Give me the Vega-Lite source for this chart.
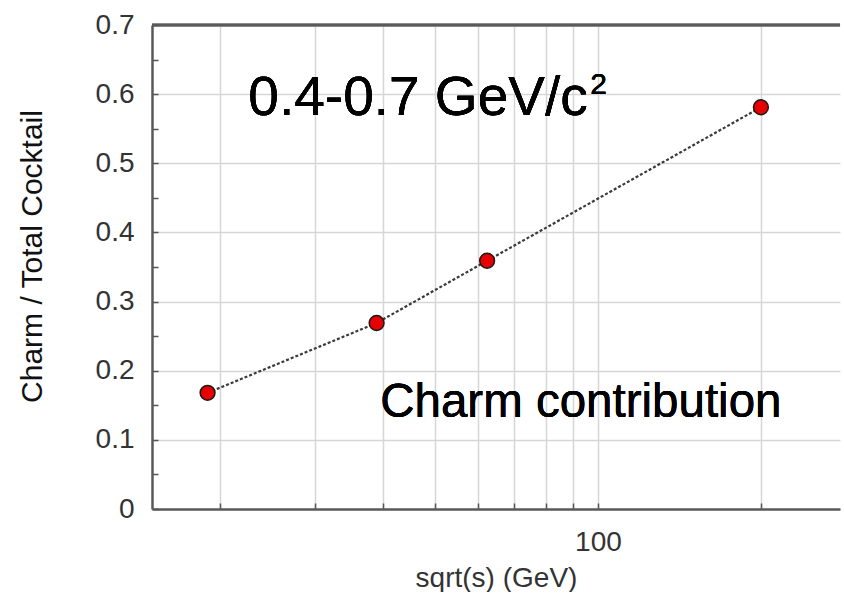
{
  "$schema": "https://vega.github.io/schema/vega-lite/v6.json",
  "width": 688,
  "height": 484,
  "padding": {"left": 17, "top": 11, "right": 0, "bottom": 0},
  "background": "white",
  "config": {
    "view": {"stroke": null},
    "font": "Liberation Sans"
  },
  "data": {
    "values": [
      {"sqrt_s": 19.0, "ratio": 0.168},
      {"sqrt_s": 39.0, "ratio": 0.269},
      {"sqrt_s": 62.4, "ratio": 0.359},
      {"sqrt_s": 200.0, "ratio": 0.581}
    ]
  },
  "encoding": {
    "x": {
      "field": "sqrt_s",
      "type": "quantitative",
      "scale": {"type": "log", "domain": [15, 280], "nice": false},
      "title": "sqrt(s) (GeV)",
      "axis": {
        "values": [20, 30, 40, 50, 60, 70, 80, 90, 100, 200],
        "labelExpr": "datum.value == 100 ? '100' : ''",
        "labelFontSize": 28,
        "labelColor": "#333",
        "labelPadding": 25,
        "tickSize": -6,
        "tickColor": "#555",
        "tickWidth": 1.5,
        "domainColor": "#5a5a5a",
        "domainWidth": 2.5,
        "gridColor": "#d6d6d6",
        "gridWidth": 1.5,
        "titleFontSize": 28,
        "titleFontWeight": "normal",
        "titleColor": "#333",
        "titlePadding": 8
      }
    },
    "y": {
      "field": "ratio",
      "type": "quantitative",
      "scale": {"domain": [0, 0.7], "nice": false, "zero": true},
      "title": "Charm / Total Cocktail",
      "axis": {
        "values": [0, 0.05, 0.1, 0.15, 0.2, 0.25, 0.3, 0.35, 0.4, 0.45, 0.5, 0.55, 0.6, 0.65, 0.7],
        "format": ".1~f",
        "labelExpr": "round(datum.value*20) % 2 === 0 ? datum.label : ''",
        "labelFontSize": 28,
        "labelColor": "#333",
        "labelPadding": 24,
        "tickSize": -6,
        "tickColor": "#555",
        "tickWidth": 1.5,
        "domainColor": "#5a5a5a",
        "domainWidth": 2.5,
        "gridColor": "#d6d6d6",
        "gridWidth": 1.5,
        "gridOpacity": {"condition": {"test": "round(datum.value*20) % 2 === 0", "value": 1}, "value": 0},
        "titleFontSize": 30,
        "titleFontWeight": "normal",
        "titleColor": "#111",
        "titlePadding": 48,
        "titleY": 231
      }
    }
  },
  "layer": [
    {
      "mark": {"type": "rule", "color": "#5a5a5a", "strokeWidth": 2.5},
      "encoding": {"y": {"datum": 0.7}, "x": null}
    },
    {
      "mark": {"type": "line", "color": "#3a3a3a", "strokeDash": [3, 2], "strokeWidth": 2.2}
    },
    {
      "mark": {"type": "point", "shape": "circle", "filled": true, "fill": "#e60000", "stroke": "#1a1a1a", "strokeWidth": 1.5, "size": 220, "opacity": 1}
    },
    {
      "mark": {"type": "text", "text": "0.4-0.7 GeV/c", "fontSize": 55, "align": "left", "baseline": "alphabetic", "color": "#000"},
      "encoding": {"x": {"datum": 22.6}, "y": {"datum": 0.57}}
    },
    {
      "mark": {"type": "text", "text": "2", "fontSize": 30, "align": "left", "baseline": "alphabetic", "color": "#000"},
      "encoding": {"x": {"datum": 96.8}, "y": {"datum": 0.6}}
    },
    {
      "mark": {"type": "text", "text": "Charm contribution", "fontSize": 47.5, "align": "left", "baseline": "alphabetic", "color": "#000"},
      "encoding": {"x": {"datum": 39.6}, "y": {"datum": 0.133}}
    }
  ]
}
